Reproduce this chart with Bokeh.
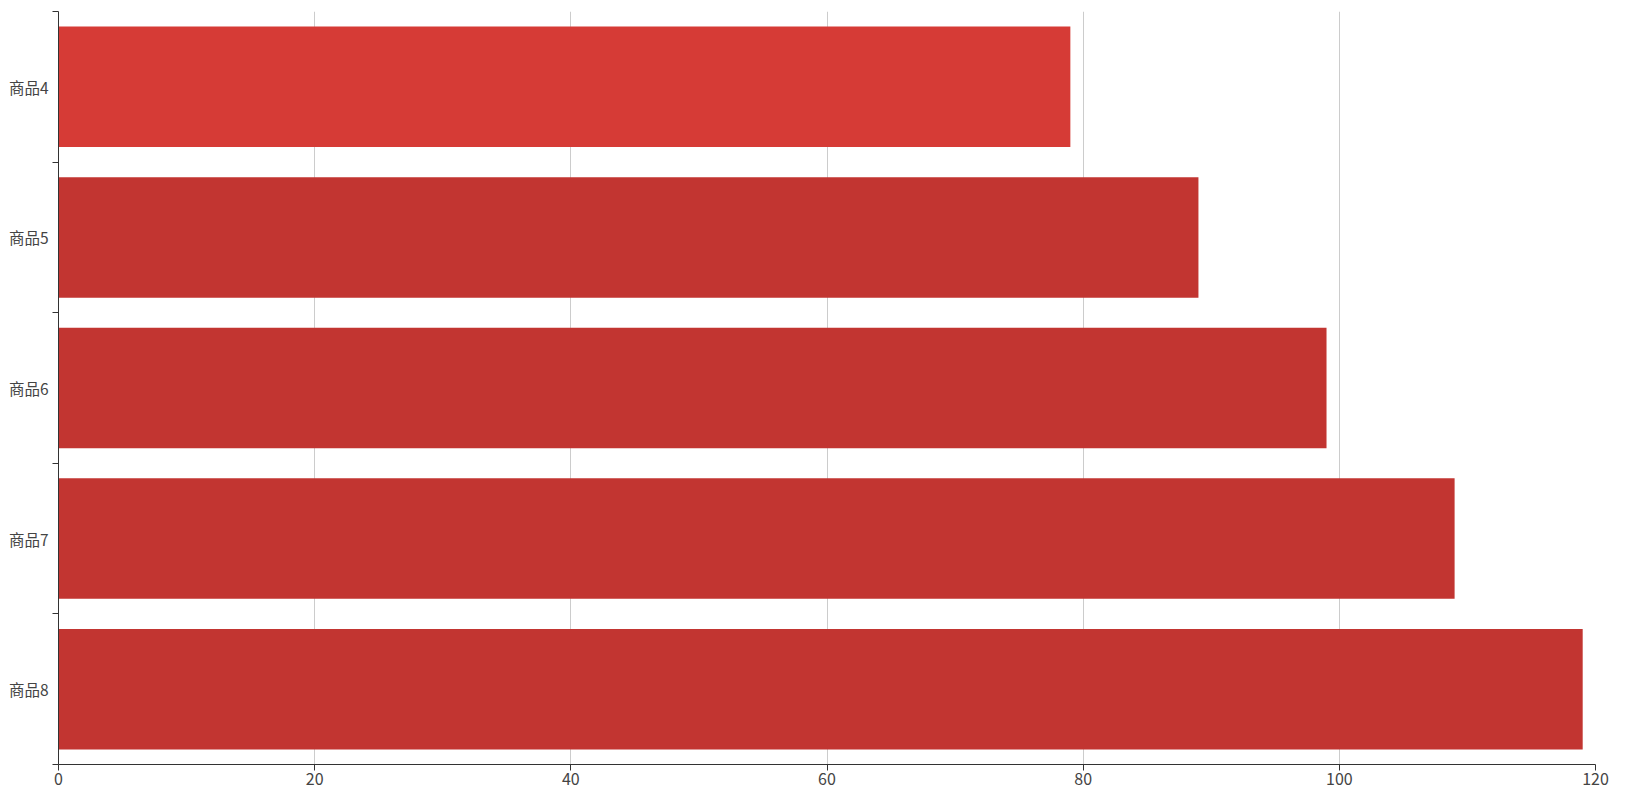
from bokeh.plotting import figure
from bokeh.models import FixedTicker, Range1d, ColumnDataSource
from bokeh.embed import file_html
from bokeh.resources import INLINE

categories = ["商品4", "商品5", "商品6", "商品7", "商品8"]
values = [79, 89, 99, 109, 119]
colors = ["#d63b36", "#c23531", "#c23531", "#c23531", "#c23531"]
x_ticks = [0, 20, 40, 60, 80, 100, 120]

n = len(categories)
ypos = [n - i - 0.5 for i in range(n)]
src = ColumnDataSource(dict(y=ypos, v=values, c=colors, cat=categories))

p = figure(frame_width=1537, frame_height=753, output_backend="svg", toolbar_location=None,
           x_range=Range1d(0, 120), y_range=Range1d(0, n))
p.min_border_left = 58
p.min_border_right = 25
p.min_border_top = 11
p.min_border_bottom = 29
p.outline_line_color = None
p.background_fill_color = "white"

p.hbar(y="y", right="v", left=0, height=0.8, color="c", source=src, line_color=None)

font = "Noto Sans CJK SC"
xa = p.xaxis[0]
xa.ticker = FixedTicker(ticks=x_ticks)
xa.axis_line_color = "#333333"
xa.major_tick_line_color = "#333333"
xa.major_tick_out = 6
xa.major_tick_in = 0
xa.minor_tick_line_color = None
xa.major_label_text_font = font
xa.major_label_text_font_size = "16px"
xa.major_label_text_color = "#444444"
xa.major_label_standoff = 2

ya = p.yaxis[0]
ya.ticker = FixedTicker(ticks=ypos, minor_ticks=list(range(n + 1)))
ya.major_label_overrides = {y: c for y, c in zip(ypos, categories)}
ya.axis_line_color = "#333333"
ya.major_tick_line_color = None
ya.major_tick_out = 0
ya.major_tick_in = 0
ya.minor_tick_line_color = "#333333"
ya.minor_tick_out = 6
ya.minor_tick_in = 0
ya.major_label_text_font = font
ya.major_label_text_font_size = "15.5px"
ya.major_label_text_color = "#444444"
ya.major_label_standoff = 4

p.ygrid.grid_line_color = None
p.xgrid.ticker = FixedTicker(ticks=x_ticks[1:])
p.xgrid.grid_line_color = "#cccccc"
p.xgrid.grid_line_width = 1

open("out.html", "w").write(file_html(p, INLINE))
